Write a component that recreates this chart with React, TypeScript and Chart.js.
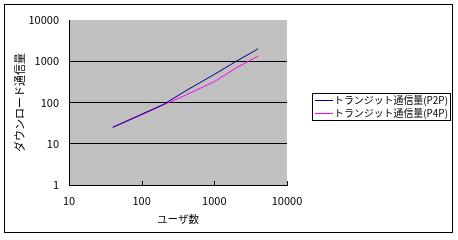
import React, { useEffect, useRef } from "react";
import { Chart, registerables } from "chart.js";

Chart.register(...registerables);

const users = [40, 100, 200, 400, 1000, 2000, 4000];
const p2pTraffic = [25, 52, 90, 190, 480, 1000, 2000];
const p4pTraffic = [25, 50, 88, 150, 320, 690, 1340];
const xTickValues = [10, 100, 1000, 10000];
const yTickValues = [1, 10, 100, 1000, 10000];
const seriesLabels = ["トランジット通信量(P2P)", "トランジット通信量(P4P)"];
const seriesColors = ["#000080", "#FF00FF"];
const xTitle = "ユーザ数";
const yTitle = "ダウンロード通信量";

const FONT = "'Noto Sans CJK JP', 'Liberation Sans', sans-serif";

const decorPlugin = {
  id: "decor",
  beforeDraw(chart: any) {
    const { ctx, chartArea } = chart;
    ctx.save();
    ctx.fillStyle = "#ffffff";
    ctx.fillRect(0, 0, chart.width, chart.height);
    ctx.fillStyle = "#C0C0C0";
    ctx.fillRect(chartArea.left, chartArea.top, chartArea.right - chartArea.left, chartArea.bottom - chartArea.top);
    ctx.restore();
  },
  afterDraw(chart: any) {
    const { ctx, chartArea } = chart;
    ctx.save();
    const xs = chart.scales.x;
    ctx.strokeStyle = "#000";
    ctx.lineWidth = 1;
    xs.ticks.forEach((t: any) => {
      const px = Math.round(xs.getPixelForValue(t.value)) + 0.5;
      ctx.beginPath();
      ctx.moveTo(px, chartArea.bottom);
      ctx.lineTo(px, chartArea.bottom - 4);
      ctx.stroke();
    });
    ctx.strokeRect(4.5, 4.5, 448, 228);
    const lx = 312.5, ly = 93.5, lw = 138, lh = 27;
    ctx.fillStyle = "#fff";
    ctx.fillRect(lx, ly, lw, lh);
    ctx.strokeStyle = "#000";
    ctx.strokeRect(lx, ly, lw, lh);
    ctx.font = "10px " + FONT;
    ctx.textBaseline = "middle";
    ctx.textAlign = "left";
    chart.data.datasets.forEach((ds: any, i: number) => {
      const cy = 100.5 + i * 13;
      ctx.strokeStyle = ds.borderColor;
      ctx.beginPath();
      ctx.moveTo(315, cy);
      ctx.lineTo(333, cy);
      ctx.stroke();
      ctx.fillStyle = "#000";
      ctx.fillText(ds.label, 334, cy, 114);
    });
    ctx.restore();
  },
};

export default function App() {
  const ref = useRef<HTMLCanvasElement | null>(null);
  useEffect(() => {
    if (!ref.current) return;
    const chart = new Chart(ref.current, {
      type: "line",
      data: {
        datasets: [
          {
            label: seriesLabels[0],
            data: users.map((u, i) => ({ x: u, y: p2pTraffic[i] })),
            borderColor: seriesColors[0],
            borderWidth: 1,
            pointRadius: 0,
            tension: 0,
          },
          {
            label: seriesLabels[1],
            data: users.map((u, i) => ({ x: u, y: p4pTraffic[i] })),
            borderColor: seriesColors[1],
            borderWidth: 1,
            pointRadius: 0,
            tension: 0,
          },
        ],
      },
      options: {
        animation: false,
        responsive: false,
        devicePixelRatio: 1,
        layout: { padding: { left: 0, right: 171, top: 20, bottom: 0 } },
        plugins: { legend: { display: false }, tooltip: { enabled: false } },
        scales: {
          x: {
            type: "logarithmic",
            min: 10,
            max: 10000,
            afterBuildTicks: (s: any) => {
              s.ticks = xTickValues.map((v) => ({ value: v }));
            },
            afterFit: (s: any) => {
              s.height = 55;
            },
            ticks: {
              autoSkip: false,
              maxRotation: 0,
              padding: 9,
              color: "#000",
              font: { family: FONT, size: 11 },
              callback: (v: any) => String(v),
            },
            grid: { display: false, drawTicks: false },
            border: { display: true, color: "#000", width: 1 },
            title: {
              display: true,
              text: xTitle,
              color: "#000",
              font: { family: FONT, size: 10.5 },
              padding: { top: 0, bottom: 15 },
            },
          },
          y: {
            type: "logarithmic",
            min: 1,
            max: 10000,
            afterBuildTicks: (s: any) => {
              s.ticks = yTickValues.map((v) => ({ value: v }));
            },
            afterFit: (s: any) => {
              s.width = 69;
            },
            ticks: {
              autoSkip: false,
              padding: 10,
              color: "#000",
              font: { family: FONT, size: 11 },
              callback: (v: any) => String(v),
            },
            grid: {
              drawTicks: false,
              color: (c: any) =>
                c.tick && (c.tick.value === 10000 || c.tick.value === 1) ? "rgba(0,0,0,0)" : "#000",
              lineWidth: 1,
            },
            border: { display: true, color: "#000", width: 1 },
            title: {
              display: true,
              text: yTitle,
              color: "#000",
              font: { family: FONT, size: 11 },
              padding: { top: 13, bottom: 0 },
            },
          },
        },
      },
      plugins: [decorPlugin],
    } as any);
    return () => chart.destroy();
  }, []);
  return (
    <div style={{ position: "fixed", left: 0, top: 0, width: 458, height: 240, background: "#fff" }}>
      <canvas ref={ref} width={458} height={240} style={{ width: 458, height: 240, display: "block" }} />
    </div>
  );
}
